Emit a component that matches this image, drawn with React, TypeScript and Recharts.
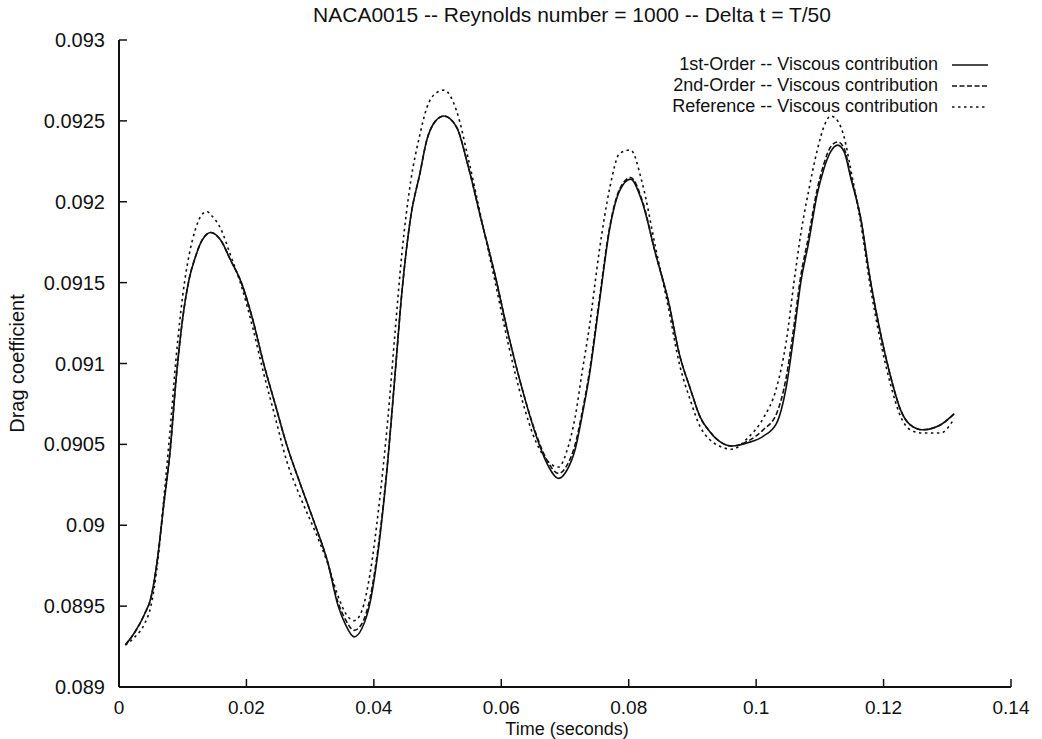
import React from "react";
import { LineChart, Line, XAxis, YAxis, Legend, Label } from "recharts";

// time (s) and drag coefficient
const TIME = [
  0.001, 0.0025, 0.004, 0.005, 0.006, 0.007, 0.008, 0.009, 0.01, 0.011,
  0.012, 0.013, 0.0138, 0.0144, 0.016, 0.0175, 0.0192, 0.021, 0.0227, 0.0245,
  0.0263, 0.0285, 0.0308, 0.0327, 0.0344, 0.0355, 0.0369, 0.0381, 0.0394, 0.0408,
  0.0422, 0.0433, 0.0444, 0.0458, 0.0472, 0.0483, 0.0497, 0.051, 0.053, 0.0548,
  0.0569, 0.059, 0.0611, 0.0633, 0.0655, 0.0672, 0.069, 0.0703, 0.0716, 0.0727,
  0.0738, 0.0754, 0.077, 0.0786, 0.0803, 0.0821, 0.0842, 0.0862, 0.088, 0.0897,
  0.0912, 0.0927, 0.0942, 0.0962, 0.0987, 0.1011, 0.1032, 0.1047, 0.106, 0.107,
  0.1082, 0.1096, 0.1106, 0.1117, 0.1128, 0.1138, 0.1149, 0.1164, 0.1179, 0.1195,
  0.1211, 0.1227, 0.1242, 0.1261, 0.1289, 0.1311,
];

const FIRST_ORDER = [
  0.08926, 0.08934, 0.08945, 0.08955, 0.08978, 0.09012, 0.09045, 0.09092, 0.09128, 0.09152,
  0.09166, 0.09176, 0.0918, 0.09181, 0.09176, 0.09164, 0.0915, 0.09127, 0.091, 0.09075,
  0.0905, 0.09025, 0.09, 0.08978, 0.0895, 0.08939, 0.08931, 0.08936, 0.08952, 0.08988,
  0.0904, 0.09092, 0.09144, 0.09191, 0.09217, 0.09238, 0.0925, 0.09253, 0.09246, 0.09222,
  0.09188, 0.09155, 0.09118, 0.09084, 0.09055, 0.09038, 0.09029, 0.09034, 0.09047, 0.09068,
  0.09092, 0.09138, 0.09183, 0.09207, 0.09214, 0.092, 0.09168, 0.09139, 0.09105, 0.09084,
  0.09067, 0.09058, 0.09052, 0.09049, 0.09051, 0.09055, 0.09063, 0.09085, 0.0912, 0.0915,
  0.09174, 0.09205, 0.0922, 0.09231, 0.09235, 0.09231, 0.09214, 0.0919, 0.09152, 0.09119,
  0.09092, 0.09071, 0.09062, 0.09059, 0.09062, 0.09069,
];

const SECOND_ORDER = [
  0.08926, 0.08934, 0.08945, 0.08955, 0.08978, 0.09012, 0.09045, 0.09092, 0.09128, 0.09152,
  0.09166, 0.09176, 0.0918, 0.09181, 0.09176, 0.09164, 0.0915, 0.09127, 0.091, 0.09075,
  0.0905, 0.09025, 0.09, 0.08978, 0.08952, 0.08942, 0.08935, 0.08939, 0.08955, 0.0899,
  0.09041, 0.09092, 0.09144, 0.09191, 0.09217, 0.09238, 0.0925, 0.09253, 0.09246, 0.09222,
  0.09188, 0.09155, 0.09118, 0.09084, 0.09056, 0.0904, 0.09032, 0.09037, 0.0905, 0.0907,
  0.09094, 0.0914, 0.09184, 0.09208, 0.09215, 0.09201, 0.09168, 0.09139, 0.09105, 0.09084,
  0.09067, 0.09058, 0.09052, 0.09049, 0.09052, 0.09059, 0.09069, 0.09091, 0.09125, 0.09154,
  0.09178, 0.09208, 0.09223, 0.09234, 0.09237, 0.09233, 0.09215, 0.0919, 0.09152, 0.09119,
  0.09092, 0.09071, 0.09062, 0.09059, 0.09062, 0.09069,
];

const REFERENCE = [
  0.08926, 0.08931, 0.08939, 0.0895, 0.08975, 0.09015, 0.09058, 0.09105, 0.09142, 0.09167,
  0.09183, 0.09192, 0.09194, 0.09192, 0.09183, 0.09167, 0.09148, 0.09122, 0.09094, 0.09067,
  0.0904, 0.09017, 0.08996, 0.08977, 0.08956, 0.08946, 0.08941, 0.08947, 0.0897, 0.09012,
  0.09066, 0.09118, 0.09168, 0.09213, 0.09241, 0.09258, 0.09267, 0.09269, 0.09256, 0.09227,
  0.09189, 0.09151, 0.09112, 0.09077, 0.09051, 0.0904, 0.09036, 0.09046, 0.09067, 0.09095,
  0.09122, 0.0917, 0.09208, 0.0923, 0.09232, 0.09212, 0.09172, 0.09135, 0.09099, 0.09077,
  0.09061, 0.09053, 0.09049, 0.09047, 0.09054, 0.09066, 0.09085, 0.09113, 0.09152, 0.0918,
  0.09206, 0.09232, 0.09246, 0.09253, 0.0925, 0.0924, 0.09219, 0.09187, 0.09148, 0.09114,
  0.09087, 0.09067, 0.09059, 0.09057, 0.09057, 0.09066,
];

const X_TICKS = [0, 0.02, 0.04, 0.06, 0.08, 0.1, 0.12, 0.14];
const Y_TICKS = [0.089, 0.0895, 0.09, 0.0905, 0.091, 0.0915, 0.092, 0.0925, 0.093];

const SERIES = [
  { key: "first", name: "1st-Order -- Viscous contribution", dash: undefined },
  { key: "second", name: "2nd-Order -- Viscous contribution", dash: "5 2.5" },
  { key: "reference", name: "Reference -- Viscous contribution", dash: "2.5 3.5" },
];

const data = TIME.map((t, i) => ({
  t,
  first: FIRST_ORDER[i],
  second: SECOND_ORDER[i],
  reference: REFERENCE[i],
}));

const FONT = '"Liberation Sans", Arial, Helvetica, sans-serif';
const INK = "#111";
const TICK_LEN = 8;

// gnuplot style: ticks point inward, labels outside
const BottomTick = (props: any) => {
  const { x, y, payload } = props;
  return (
    <g>
      <line x1={x} y1={y} x2={x} y2={y - TICK_LEN} stroke={INK} strokeWidth={1.5} />
      <text x={x} y={y + 27} textAnchor="middle" fontSize={19} fontFamily={FONT} fill={INK}>
        {payload.value}
      </text>
    </g>
  );
};

const TopTick = (props: any) => {
  const { x, y } = props;
  return <line x1={x} y1={y} x2={x} y2={y + TICK_LEN} stroke={INK} strokeWidth={1.5} />;
};

const LeftTick = (props: any) => {
  const { x, y, payload } = props;
  return (
    <g>
      <line x1={x} y1={y} x2={x + TICK_LEN} y2={y} stroke={INK} strokeWidth={1.5} />
      <text x={x - 14} y={y + 7} textAnchor="end" fontSize={20} fontFamily={FONT} fill={INK}>
        {payload.value}
      </text>
    </g>
  );
};

const RightTick = (props: any) => {
  const { x, y } = props;
  return <line x1={x} y1={y} x2={x - TICK_LEN} y2={y} stroke={INK} strokeWidth={1.5} />;
};

const LegendBox = () => (
  <div style={{ fontFamily: FONT, fontSize: 18, color: INK }}>
    {SERIES.map((s) => (
      <div
        key={s.key}
        style={{ display: "flex", justifyContent: "flex-end", alignItems: "center", height: 21, lineHeight: "21px" }}
      >
        <span>{s.name}</span>
        <svg width={50} height={10} style={{ marginLeft: 14 }}>
          <line x1={0} y1={5} x2={36} y2={5} stroke={INK} strokeWidth={1.5} strokeDasharray={s.dash} />
        </svg>
      </div>
    ))}
  </div>
);

export default function App() {
  return (
    <div style={{ position: "relative", width: 1042, height: 739, background: "#fff", fontFamily: FONT }}>
      <style>{"body{margin:0}"}</style>
      <div
        style={{
          position: "absolute",
          top: 3,
          left: 0,
          width: 1144,
          textAlign: "center",
          fontSize: 21,
          color: INK,
          whiteSpace: "nowrap",
        }}
      >
        NACA0015 -- Reynolds number = 1000 -- Delta t = T/50
      </div>
      <LineChart width={1042} height={739} data={data} margin={{ top: 40, right: 31, bottom: 0, left: 0 }}>
        <XAxis
          dataKey="t"
          type="number"
          domain={[0, 0.14]}
          ticks={X_TICKS}
          allowDataOverflow
          height={52}
          tickSize={0}
          tickMargin={0}
          tickLine={false}
          axisLine={{ stroke: INK, strokeWidth: 2 }}
          tick={<BottomTick />}
        >
          <Label
            content={({ viewBox }: any) => (
              <text
                x={viewBox.x + viewBox.width / 2 + 2}
                y={735}
                textAnchor="middle"
                fontSize={18}
                fontFamily={FONT}
                fill={INK}
              >
                Time (seconds)
              </text>
            )}
          />
        </XAxis>
        <XAxis
          xAxisId="top"
          orientation="top"
          dataKey="t"
          type="number"
          domain={[0, 0.14]}
          ticks={X_TICKS}
          allowDataOverflow
          height={0}
          tickSize={0}
          tickMargin={0}
          tickLine={false}
          axisLine={{ stroke: INK, strokeWidth: 2 }}
          tick={<TopTick />}
        />
        <YAxis
          type="number"
          domain={[0.089, 0.093]}
          ticks={Y_TICKS}
          allowDataOverflow
          width={119}
          tickSize={0}
          tickMargin={0}
          tickLine={false}
          axisLine={{ stroke: INK, strokeWidth: 2 }}
          tick={<LeftTick />}
        >
          <Label
            content={({ viewBox }: any) => {
              const cy = viewBox.y + viewBox.height / 2;
              return (
                <text
                  x={24}
                  y={cy}
                  transform={`rotate(-90 24 ${cy})`}
                  textAnchor="middle"
                  fontSize={20}
                  fontFamily={FONT}
                  fill={INK}
                >
                  Drag coefficient
                </text>
              );
            }}
          />
        </YAxis>
        <YAxis
          yAxisId="right"
          orientation="right"
          type="number"
          domain={[0.089, 0.093]}
          ticks={Y_TICKS}
          allowDataOverflow
          width={0}
          tickSize={0}
          tickMargin={0}
          tickLine={false}
          axisLine={{ stroke: INK, strokeWidth: 2 }}
          tick={<RightTick />}
        />
        <Legend
          layout="vertical"
          align="center"
          verticalAlign="middle"
          content={<LegendBox />}
          wrapperStyle={{ top: 54, left: 560, width: 442, height: 63 }}
        />
        {SERIES.map((s) => (
          <Line
            key={s.key}
            dataKey={s.key}
            name={s.name}
            type="monotone"
            stroke={INK}
            strokeWidth={1.6}
            strokeDasharray={s.dash}
            dot={false}
            activeDot={false}
            isAnimationActive={false}
          />
        ))}
      </LineChart>
    </div>
  );
}
